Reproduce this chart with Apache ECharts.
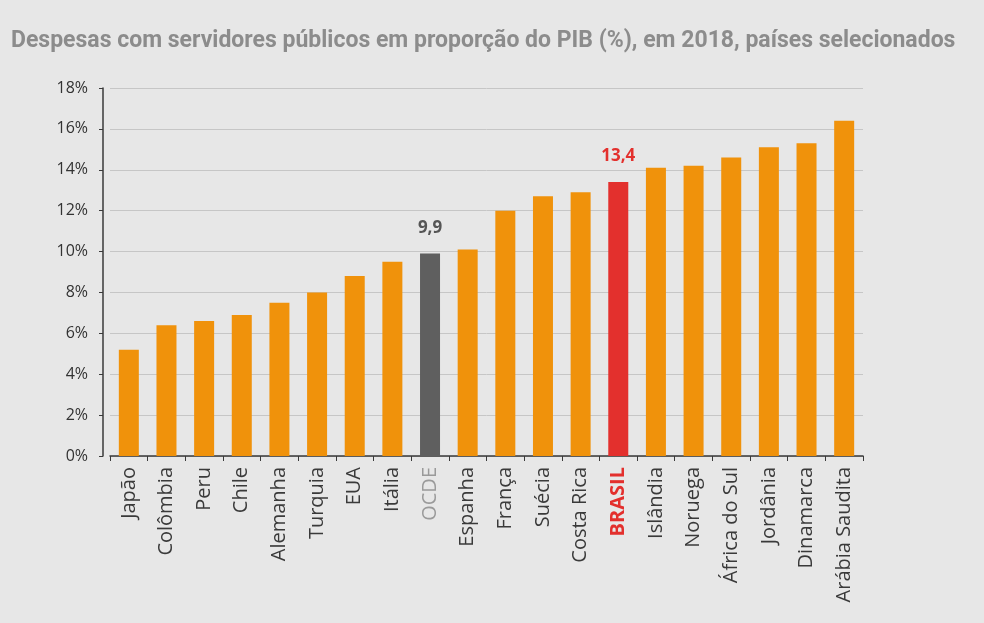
<!DOCTYPE html>
<html>
<head>
<meta charset="utf-8">
<script src="https://cdn.jsdelivr.net/npm/echarts@6/dist/echarts.min.js"></script>
<style>
  html, body { margin: 0; padding: 0; background: #e7e7e7; }
  #main { width: 984px; height: 623px; }
</style>
</head>
<body>
<div id="main"></div>
<script>
// dados do gráfico
var paises = ['Japão', 'Colômbia', 'Peru', 'Chile', 'Alemanha', 'Turquia', 'EUA', 'Itália', 'OCDE', 'Espanha',
    'França', 'Suécia', 'Costa Rica', 'BRASIL', 'Islândia', 'Noruega', 'África do Sul', 'Jordânia', 'Dinamarca', 'Arábia Saudita'];
var despesas = [5.2, 6.4, 6.6, 6.9, 7.5, 8.0, 8.8, 9.5, 9.9, 10.1,
    12.0, 12.7, 12.9, 13.4, 14.1, 14.2, 14.6, 15.1, 15.3, 16.4];
var yTicks = [0, 2, 4, 6, 8, 10, 12, 14, 16, 18];

var myChart = echarts.init(document.getElementById('main'));

var laranja = '#f0920b';
var destaque = {
    'OCDE': {bar: '#5f5f5f', label: '#555555'},
    'BRASIL': {bar: '#e3302d', label: '#e3302d'}
};

var dados = paises.map(function (p, i) {
    var d = {value: despesas[i]};
    if (destaque[p]) {
        d.itemStyle = {color: destaque[p].bar};
        d.label = {
            show: true,
            position: 'top',
            distance: 17,
            color: destaque[p].label,
            fontWeight: 'bold',
            fontSize: 17,
            fontFamily: 'Open Sans',
            formatter: function (v) { return String(v.value).replace('.', ','); }
        };
    }
    return d;
});

var option = {
    backgroundColor: '#e7e7e7',
    animation: false,
    title: {
        text: 'Despesas com servidores públicos em proporção do PIB (%), em 2018, países selecionados',
        left: 6,
        top: 25,
        textStyle: {
            color: '#8c8c8c',
            fontSize: 23,
            fontWeight: 'bold',
            fontFamily: 'Roboto'
        }
    },
    grid: {
        left: 110,
        right: 121,
        top: 88,
        bottom: 167
    },
    xAxis: {
        type: 'category',
        data: paises,
        axisLine: {lineStyle: {color: '#3a3a3a', width: 1.5}},
        axisTick: {show: true, length: 5, lineStyle: {color: '#3a3a3a'}},
        axisLabel: {
            rotate: 90,
            margin: 11,
            fontSize: 20,
            fontFamily: 'Open Sans',
            color: '#3a3a3a',
            formatter: function (v) {
                if (v === 'BRASIL') return '{br|' + v + '}';
                if (v === 'OCDE') return '{oc|' + v + '}';
                return v;
            },
            rich: {
                br: {color: '#e3302d', fontWeight: 'bold', fontSize: 20, fontFamily: 'Open Sans'},
                oc: {color: '#9a9a9a', fontSize: 20, fontFamily: 'Open Sans'}
            }
        }
    },
    yAxis: {
        type: 'value',
        min: yTicks[0],
        max: yTicks[yTicks.length - 1],
        interval: 2,
        offset: 7,
        axisLine: {show: true, lineStyle: {color: '#3a3a3a', width: 1.5}},
        axisTick: {show: true, length: 4, lineStyle: {color: '#3a3a3a'}},
        axisLabel: {
            formatter: '{value}%',
            fontSize: 16,
            fontFamily: 'Open Sans',
            color: '#333333',
            margin: 15
        },
        splitLine: {lineStyle: {color: '#c6c6c6', width: 1}}
    },
    series: [
        {
            name: 'Despesas',
            type: 'bar',
            barWidth: 20,
            itemStyle: {color: laranja},
            data: dados
        }
    ]
};

myChart.setOption(option);
</script>
</body>
</html>
